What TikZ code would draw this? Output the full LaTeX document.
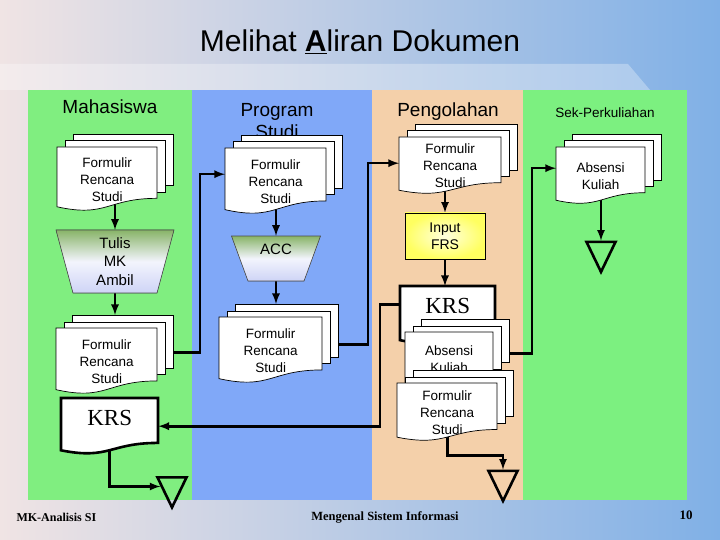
\documentclass[tikz,border=0pt]{standalone}
\usepackage{fontspec}
\setmainfont{Liberation Sans}
\newfontfamily\krsfont{Liberation Serif}
\usetikzlibrary{shapes.geometric, arrows, positioning, calc}
\definecolor{mhslane}{RGB}{128,238,128}
\definecolor{prodilane}{RGB}{128,168,248}
\definecolor{olahlane}{RGB}{244,208,170}
\definecolor{seklane}{RGB}{124,240,128}
\definecolor{trapgreen}{RGB}{136,180,104}
\definecolor{traplav}{RGB}{206,212,246}
\definecolor{inputyellow}{RGB}{255,255,96}
\definecolor{bgleft}{RGB}{240,228,228}
\definecolor{bgmid}{RGB}{196,228,248}
\definecolor{bgright}{RGB}{128,176,230}

\pgfdeclarelayer{lanes}
\pgfdeclarelayer{flows}
\pgfsetlayers{lanes,flows,main}

\tikzset{
  page/.style={draw=black, fill=white, line width=0.7pt},
  krspage/.style={draw=black, fill=white, line width=2.6pt},
  docbox/.style={inner sep=0pt, anchor=north west, align=center, font=\fontsize{13.5}{17}\selectfont},
  header/.style={font=\fontsize{19}{22}\selectfont, align=center},
  manual/.style={draw=black!70, line width=0.6pt, top color=trapgreen, bottom color=traplav, middle color=white!75!traplav},
  flow/.style={line width=2.6pt, -latex},
  offpage/.style={isosceles triangle, isosceles triangle stretches, shape border rotate=-90, draw=black, line width=2.6pt, minimum width=29, minimum height=30, inner sep=0pt},
}

% stack of three pages: name, x, y (front top left), width, height, text
\newcommand{\docstack}[6]{%
  \node[page, minimum width=#4, minimum height={0.8*#5}, anchor=north west] (#1-b2) at ({#2+16},{#3-13}) {};
  \node[page, minimum width=#4, minimum height={0.8*#5}, anchor=north west] (#1-b1) at ({#2+8},{#3-6.5}) {};
  \filldraw[page] (#2,#3) -- ({#2+#4},#3) -- ({#2+#4},{#3+0.802*#5}) .. controls ({#2+#4/2},{#3+0.802*#5}) and ({#2+#4/2},{#3+1.107*#5}) .. (#2,{#3+0.934*#5}) -- cycle;
  \node[docbox, minimum width=#4, minimum height=#5] (#1) at (#2,#3) {#6};
}
% single KRS page with a thick border
\newcommand{\krsdoc}[5]{%
  \filldraw[krspage] (#2,#3) -- ({#2+#4},#3) -- ({#2+#4},{#3+0.802*#5}) .. controls ({#2+#4/2},{#3+0.802*#5}) and ({#2+#4/2},{#3+1.107*#5}) .. (#2,{#3+0.934*#5}) -- cycle;
  \node[docbox, minimum width=#4, minimum height=#5] (#1) at (#2,#3) {};
  \node[font=\krsfont\fontsize{23}{26}\selectfont, inner sep=0pt] (#1-t) at ([yshift=-20pt]#1.north) {KRS};
}
% manual operation: [options], name, centre x, centre y, top width, bottom width, height, text
\newcommand{\manualop}[8][]{%
  \filldraw[manual] ({#3-#5/2},{#4-#7/2}) -- ({#3+#5/2},{#4-#7/2}) -- ({#3+#6/2},{#4+#7/2}) -- ({#3-#6/2},{#4+#7/2}) -- cycle;
  \node[inner sep=0pt, minimum width=#6, minimum height=#7, align=center, font=\fontsize{15}{18.5}\selectfont, #1] (#2) at (#3,#4) {#8};
}

\begin{document}
\begin{tikzpicture}[x=1pt, y=-1pt]
  \useasboundingbox (0,0) rectangle (720,540);

  % Slide and lanes
  \begin{pgfonlayer}{lanes}
    \shade[left color=bgleft, middle color=bgmid, right color=bgright] (0,0) rectangle (720,540);
    \fill[white, opacity=0.3] (0,64) -- (628,64) -- (650,90) -- (0,90) -- cycle;
    \fill[mhslane] (28,90) rectangle (192,500);
    \fill[prodilane] (192,90) rectangle (372,500);
    \fill[olahlane] (372,90) rectangle (523,500);
    \fill[seklane] (523,90) rectangle (687,500);
  \end{pgfonlayer}

  \node[font=\fontsize{30}{33}\selectfont] (title) at (360,42) {Melihat \underline{\textbf{A}}liran Dokumen};

  % Lane headers
  \node[header] (hmhs) at (110,107) {Mahasiswa};
  \node[header, anchor=north] (hprodi) at (277,100) {Program\\Studi};
  \node[header] (holah) at (448,112) {Pengolahan};
  \node[font=\fontsize{13.5}{16}\selectfont] (hsek) at (605,113) {Sek-Perkuliahan};

  % Mahasiswa
  \docstack{mfrs1}{57}{147}{100}{64}{Formulir\\Rencana\\Studi}
  \manualop{mtulis}{115}{261.5}{118}{84}{63}{Tulis\\MK\\Ambil}
  \docstack{mfrs2}{56}{328}{101}{66}{Formulir\\Rencana\\Studi}
  \krsdoc{mkrs}{61}{398}{97}{56}
  \node[offpage] (mtrg) at (172,486.5) {};

  % Program Studi
  \docstack{pfrs1}{225}{148}{101}{66}{Formulir\\Rencana\\Studi}
  \manualop[text depth=19pt]{pacc}{276}{258.5}{89}{56}{45}{ACC}
  \docstack{pfrs2}{219}{317}{103}{66}{Formulir\\Rencana\\Studi}

  % Pengolahan
  \docstack{gfrs1}{399}{137}{102}{57}{Formulir\\Rencana\\Studi}
  \node[draw=black, line width=0.7pt, minimum width=80, minimum height=46, inner sep=0pt, align=center,
        inner color=white!80!inputyellow, outer color=inputyellow, font=\fontsize{14}{17}\selectfont] (ginput) at (445,236) {Input\\FRS};
  \krsdoc{gkrs}{400}{286}{95}{58}
  \docstack{gabs}{405}{332}{88}{54}{Absensi\\Kuliah}
  \docstack{gfrs2}{397}{383}{100}{58}{Formulir\\Rencana\\Studi}
  \node[offpage] (gtrg) at (503,480) {};

  % Sek-Perkuliahan
  \docstack{sabs}{556}{147}{89}{57}{Absensi\\Kuliah}
  \node[offpage] (strg) at (601,251) {};

  % Footer
  \node[font=\krsfont\bfseries\fontsize{12}{14}\selectfont, anchor=west] (fcourse) at (13,517) {MK-Analisis SI};
  \node[font=\krsfont\bfseries\fontsize{12.5}{14}\selectfont] (ftopic) at (385,517) {Mengenal Sistem Informasi};
  \node[font=\krsfont\bfseries\fontsize{13}{15}\selectfont] (fpage) at (686,515) {10};

  % Connectors
  \begin{pgfonlayer}{flows}
    \draw[flow] (mtulis.north |- mfrs1.center) -- (mtulis.north);
    \draw[flow] (mtulis.south) -- (mtulis.south |- mfrs2-b2.north);
    \draw[flow] ([yshift=-11pt]mfrs2-b2.center) -| ([xshift=-25pt,yshift=7pt]pfrs1.west) -- ([yshift=7pt]pfrs1.west);
    \draw[flow] (pfrs1.center -| pacc.north) -- (pacc.north);
    \draw[flow] (pacc.south) -- (pacc.south |- pfrs2-b2.north);
    \draw[flow] ([yshift=-13.5pt]pfrs2-b2.center) -| ([xshift=-31pt,yshift=2.5pt]gfrs1.west) -- ([yshift=2.5pt]gfrs1.west);
    \draw[flow] (gfrs1.center -| ginput.north) -- (ginput.north);
    \draw[flow] (ginput.south) -- (ginput.south |- gkrs.north);
    \draw[flow] ([yshift=11pt]gkrs.center) -| ([xshift=-20pt]gkrs.west |- mkrs.east) -- (mkrs.east);
    \draw[flow] ([yshift=-12.4pt]gabs-b2.center) -| ([xshift=-24pt,yshift=7.5pt]sabs.west) -- ([yshift=7.5pt]sabs.west);
    \draw[flow] (gfrs2.center) |- ([yshift=14pt]gtrg.north) -- (gtrg.north);
    \draw[flow] (sabs.center -| strg.north) -- (strg.north);
    \draw[flow] (mkrs.center) |- (mtrg.west);
  \end{pgfonlayer}
\end{tikzpicture}
\end{document}
